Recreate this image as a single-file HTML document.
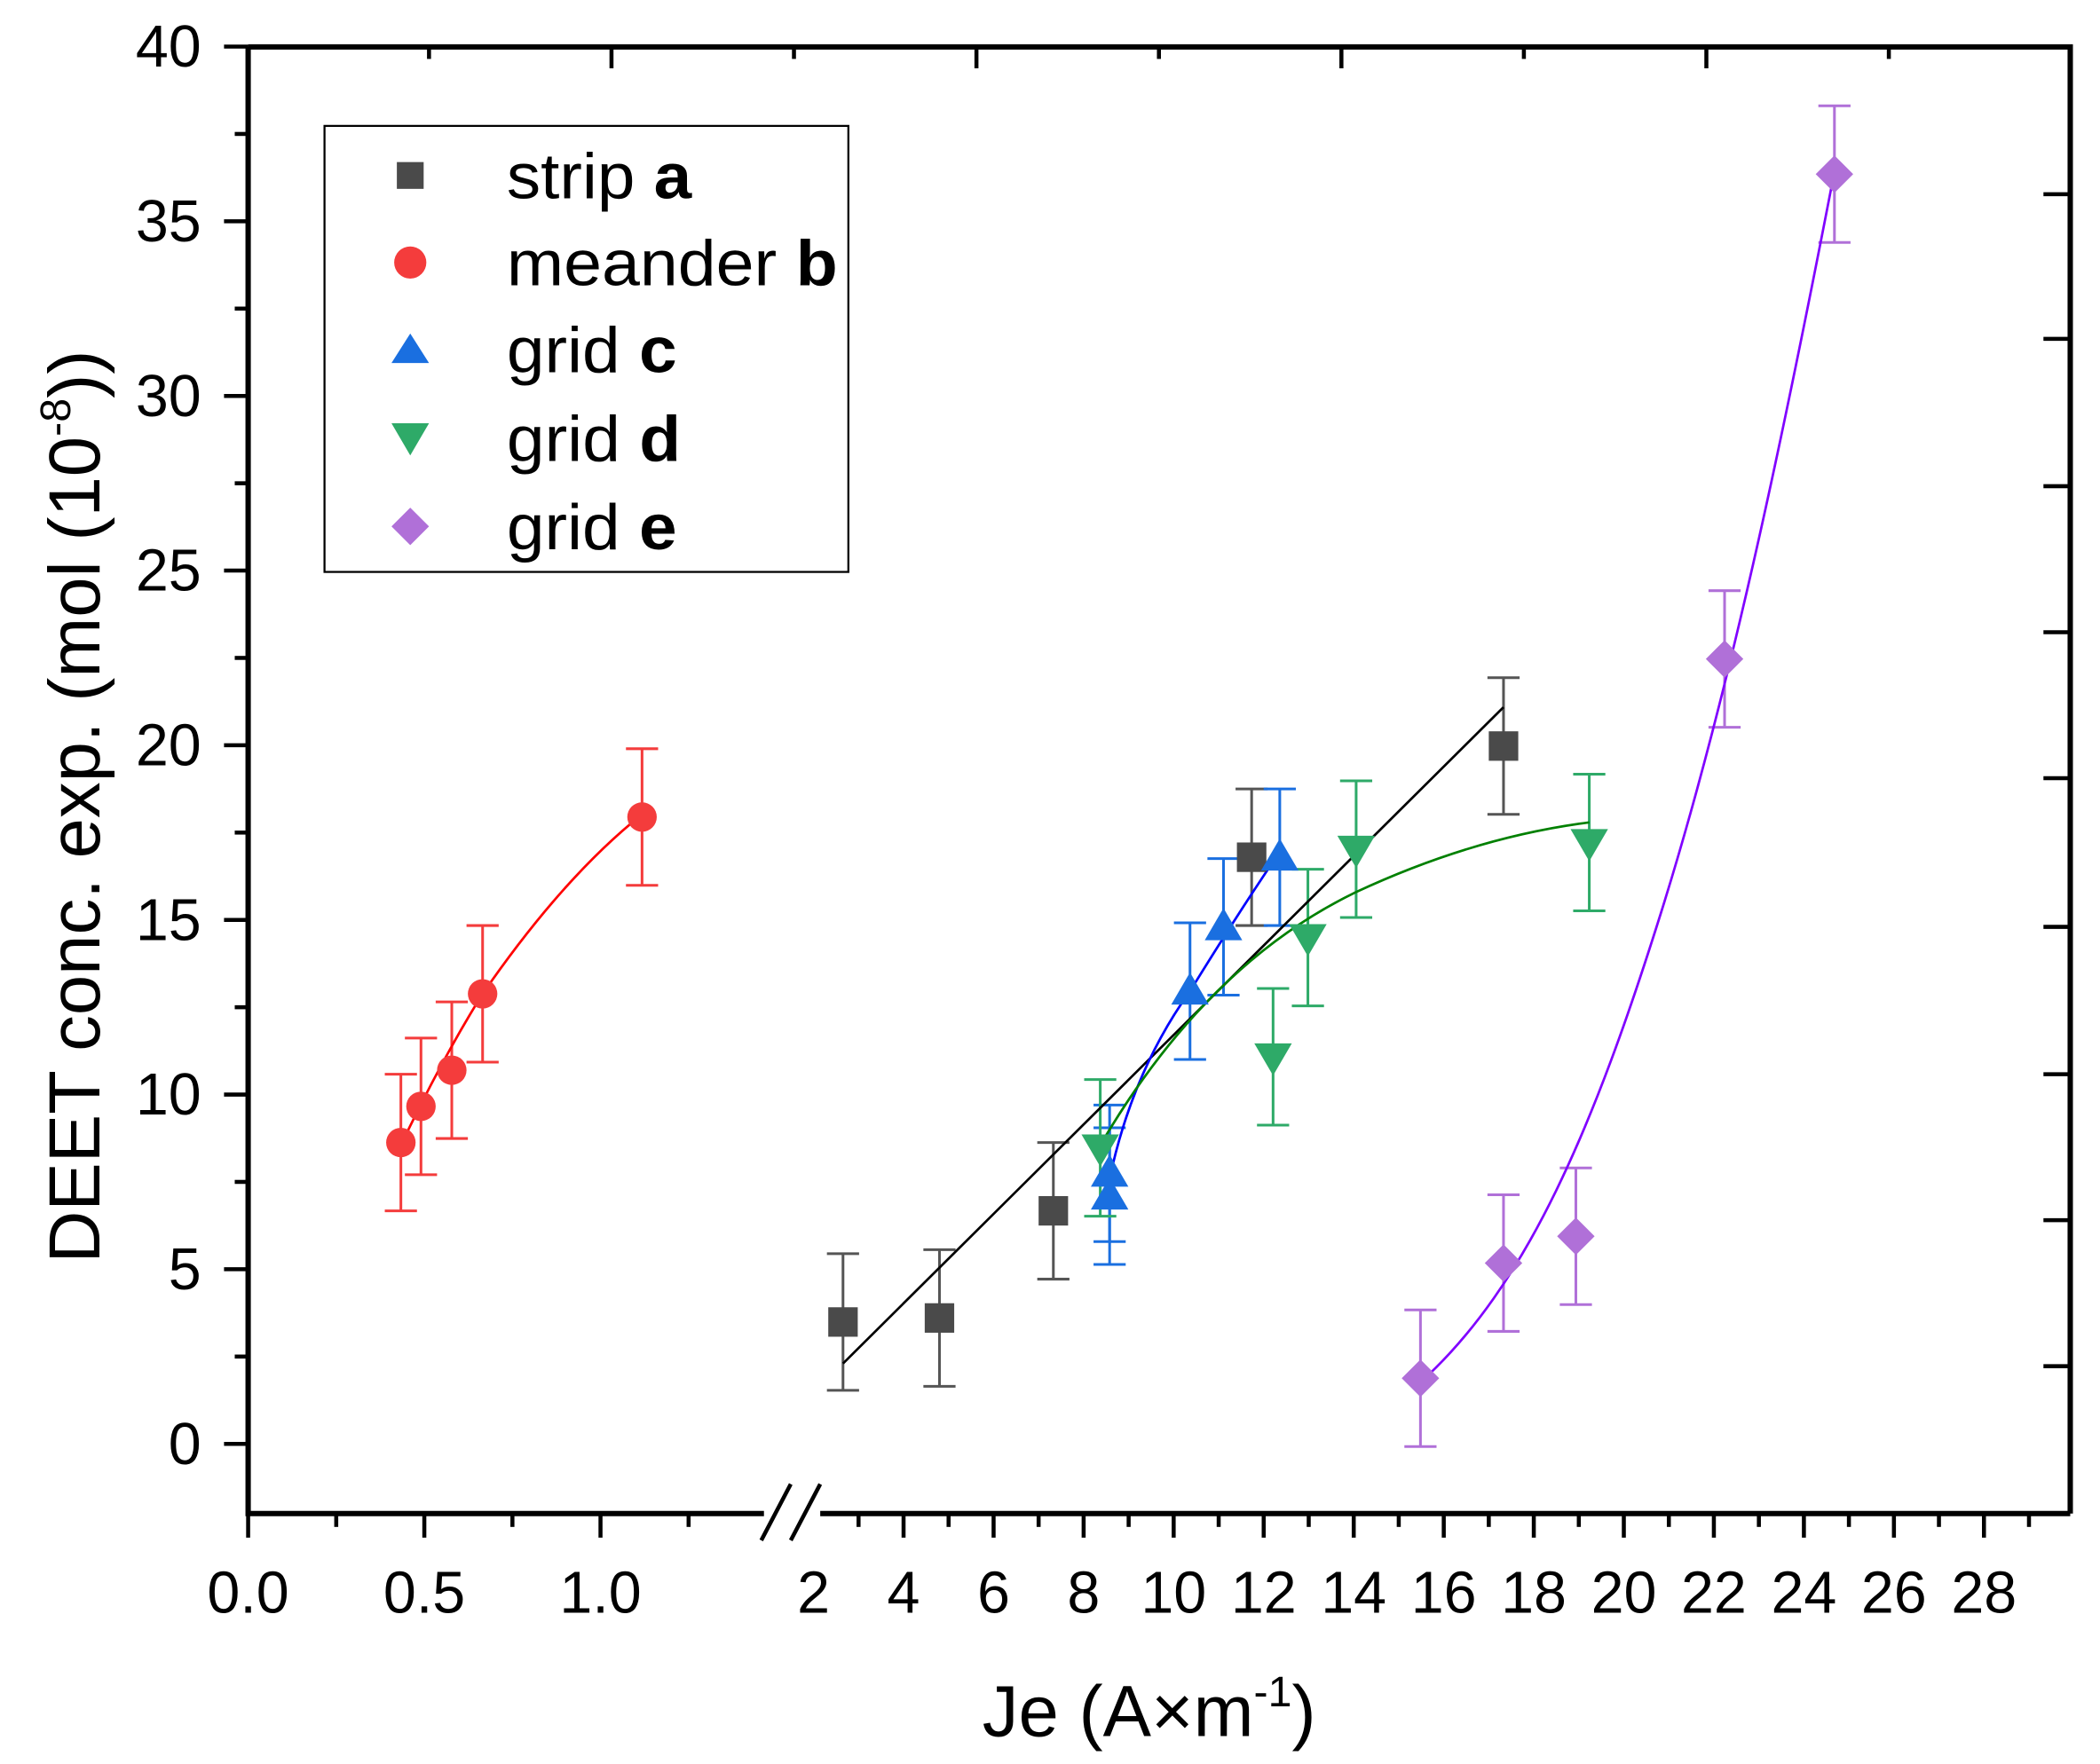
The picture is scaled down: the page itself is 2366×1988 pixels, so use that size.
<!DOCTYPE html>
<html><head><meta charset="utf-8"><style>html,body{margin:0;padding:0;background:#fff}svg{display:block}</style></head>
<body>
<svg id="s" xmlns="http://www.w3.org/2000/svg" width="2366" height="1988" viewBox="0 0 1567 1317" font-family="Liberation Sans, Arial, sans-serif">
<rect width="1567" height="1317" fill="#fff"/>
<g id="ticks" stroke="#000" stroke-width="3"></g>
<path d="M185 35 H1545 V1130 M185 35 V1130 H570 M612 1130 H1545" fill="none" stroke="#000" stroke-width="4"/>
<rect x="572" y="1110" width="38" height="45" fill="#fff"/>
<path d="M568 1150 L590 1108 M590 1150 L612 1108" stroke="#000" stroke-width="3"/>
<g id="data"></g>
<rect x="242" y="94" width="391" height="333" fill="#fff" stroke="#000" stroke-width="1.5"/>
<rect x="296" y="121" width="20" height="20" fill="#4a4a4a"/>
<circle cx="306" cy="196" r="12" fill="#f43c3c"/>
<path d="M306 249 L320 271 L292 271Z" fill="#1a6fe0"/>
<path d="M292 316 L320 316 L306 340Z" fill="#2eaa68"/>
<path d="M306 379 L320 393 L306 407 L292 393Z" fill="#b070d8"/>
<g font-size="48" fill="#000">
<text x="378" y="148" textLength="138" lengthAdjust="spacingAndGlyphs">strip <tspan font-weight="bold">a</tspan></text>
<text x="378" y="213" textLength="247" lengthAdjust="spacingAndGlyphs">meander <tspan font-weight="bold">b</tspan></text>
<text x="378" y="278" textLength="127" lengthAdjust="spacingAndGlyphs">grid <tspan font-weight="bold">c</tspan></text>
<text x="378" y="344" textLength="130" lengthAdjust="spacingAndGlyphs">grid <tspan font-weight="bold">d</tspan></text>
<text x="378" y="410" textLength="127" lengthAdjust="spacingAndGlyphs">grid <tspan font-weight="bold">e</tspan></text>
</g>
<g id="labels" font-size="44" fill="#000"></g>
<text x="733" y="1296" font-size="54">Je (A×m<tspan font-size="32" dy="-22">-1</tspan><tspan dy="22">)</tspan></text>
<text transform="translate(74,943) rotate(-90)" font-size="54">DEET conc. exp. (mol (10<tspan font-size="32" dy="-22">-8</tspan><tspan dy="22">))</tspan></text>
</svg>
<script>
var NS="http://www.w3.org/2000/svg";
function el(p,t,a,txt){var e=document.createElementNS(NS,t);for(var k in a)e.setAttribute(k,a[k]);if(txt!==undefined)e.textContent=txt;document.getElementById(p).appendChild(e);return e;}
function Y(v){return 1078-v*26.08;}
function XL(v){return 185+v*263;}
function XR(v){return 607+(v-2)*33.6;}
for(var v=0;v<=40;v+=2.5){var y=Y(v);var maj=(v%5==0);
 el("ticks","line",{x1:185-(maj?18:10),y1:y,x2:185,y2:y});
 if(maj) el("labels","text",{x:150,y:y+15,"text-anchor":"end"},String(v));}
[145,253,363,472,581,692,802,911,1020].forEach(function(y){el("ticks","line",{x1:1525,y1:y,x2:1545,y2:y});});
for(var i=0;i<10;i++){var x=320+i*136.2;if(x>1540)break;el("ticks","line",{x1:x,y1:35,x2:x,y2:35+(i%2?16:9)});}
for(var v=0;v<=1.26;v+=0.25){var x=XL(v);var maj=(Math.abs(v*2-Math.round(v*2))<1e-6);
 el("ticks","line",{x1:x,y1:1130,x2:x,y2:1130+(maj?18:10)});}
[["0.0",0],["0.5",0.5],["1.0",1]].forEach(function(a){el("labels","text",{x:XL(a[1]),y:1204,"text-anchor":"middle"},a[0]);});
for(var v=2;v<=29;v++){var x=XR(v);var maj=(v%2==0);
 el("ticks","line",{x1:x,y1:1130,x2:x,y2:1130+(maj?18:10)});
 if(maj) el("labels","text",{x:x,y:1204,"text-anchor":"middle"},String(v));}
function eb(x,y,e,c){el("data","path",{d:"M"+x+" "+(y-e)+"V"+(y+e)+"M"+(x-12)+" "+(y-e)+"h24M"+(x-12)+" "+(y+e)+"h24",stroke:c,"stroke-width":2,fill:"none"});}
function mk(t,x,y,c){
 if(t=="s")el("data","rect",{x:x-11,y:y-11,width:22,height:22,fill:c});
 if(t=="c")el("data","circle",{cx:x,cy:y,r:11,fill:c});
 if(t=="u")el("data","path",{d:"M"+x+" "+(y-14)+"l14 24h-28z",fill:c});
 if(t=="d")el("data","path",{d:"M"+(x-14)+" "+(y-10)+"h28l-14 24z",fill:c});
 if(t=="m")el("data","path",{d:"M"+x+" "+(y-14)+"l14 14l-14 14l-14 -14z",fill:c});}
function fit(d,c){el("data","path",{d:d,stroke:c,"stroke-width":1.8,fill:"none"});}
var S=[
 {t:"s",c:"#4a4a4a",e:"#555",p:[[629,987],[701,984],[786,904],[934,640],[1122,557]]},
 {t:"c",c:"#f43c3c",e:"#f43c3c",p:[[299,853],[314,826],[337,799],[360,742],[479,610]]},
 {t:"u",c:"#1a6fe0",e:"#1a6fe0",p:[[828,893],[828,876],[888,740],[913,692],[955,640]]},
 {t:"d",c:"#2eaa68",e:"#2eaa68",p:[[821,857],[950,789],[976,700],[1012,634],[1186,629]]},
 {t:"m",c:"#b070d8",e:"#b070d8",p:[[1060,1029],[1122,943],[1176,923],[1287,492],[1369,130]]}];
S.forEach(function(s){s.p.forEach(function(q){eb(q[0],q[1],51,s.e);});});
fit("M629 1018 L1122 528","#000");
fit("M299 855 Q330 790 360 742 Q420 655 479 608","#f00");
fit("M828 880 Q845 800 888 740 Q925 680 955 636","#00f");
fit("M821 855 Q900 720 1012 666 Q1100 625 1186 614","#008000");
fit("M1060 1032 C1140 960 1190 840 1240 680 C1290 520 1330 330 1369 128","#8000ff");
S.forEach(function(s){s.p.forEach(function(q){mk(s.t,q[0],q[1],s.c);});});
</script>
</body></html>
